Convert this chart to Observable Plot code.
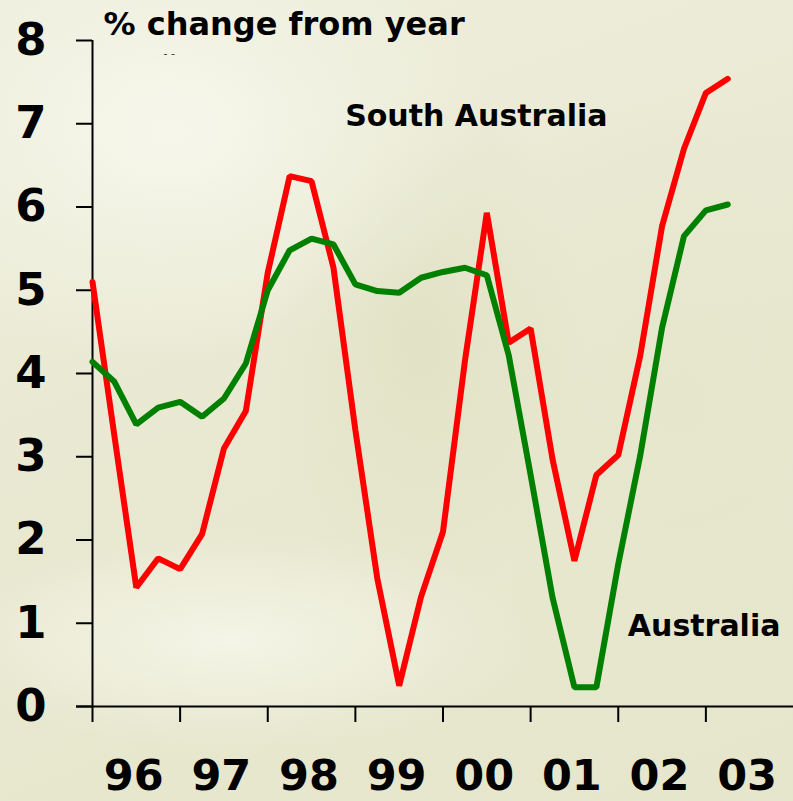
<!DOCTYPE html>
<html>
<head>
<meta charset="utf-8">
<script src="https://cdn.jsdelivr.net/npm/d3@7"></script>
<script src="https://cdn.jsdelivr.net/npm/@observablehq/plot@0.6"></script>
<style>
  html, body { margin: 0; padding: 0; }
  body {
    width: 793px; height: 801px; overflow: hidden;
    background:
      radial-gradient(ellipse 320px 230px at 170px 130px, rgba(247,247,236,0.95), rgba(247,247,236,0)),
      radial-gradient(ellipse 300px 110px at 230px 640px, rgba(246,246,234,0.9), rgba(246,246,234,0)),
      radial-gradient(ellipse 170px 260px at 420px 340px, rgba(222,224,192,0.7), rgba(222,224,192,0)),
      radial-gradient(ellipse 260px 300px at 680px 400px, rgba(228,229,202,0.6), rgba(228,229,202,0)),
      linear-gradient(160deg, #eeeedd 0%, #e8e8d0 55%, #e5e6cb 100%);
  }
</style>
</head>
<body>
<div id="chart"></div>
<script>
// Quarterly periods (96Q1 .. 03Q2)
const quarters = [
  "1996Q1","1996Q2","1996Q3","1996Q4",
  "1997Q1","1997Q2","1997Q3","1997Q4",
  "1998Q1","1998Q2","1998Q3","1998Q4",
  "1999Q1","1999Q2","1999Q3","1999Q4",
  "2000Q1","2000Q2","2000Q3","2000Q4",
  "2001Q1","2001Q2","2001Q3","2001Q4",
  "2002Q1","2002Q2","2002Q3","2002Q4",
  "2003Q1","2003Q2"
];
const southAustralia = [5.1, 3.25, 1.43, 1.78, 1.65, 2.07, 3.1, 3.55, 5.21, 6.37, 6.31, 5.27, 3.32, 1.54, 0.25,
  1.32, 2.1, 4.15, 5.93, 4.37, 4.54, 2.97, 1.75, 2.78, 3.02, 4.21, 5.77, 6.7, 7.37, 7.54];
const australia = [4.14, 3.9, 3.39, 3.59, 3.66, 3.48, 3.7, 4.12, 5.0, 5.48, 5.62, 5.55, 5.07, 4.99, 4.97,
  5.15, 5.22, 5.27, 5.18, 4.22, 2.78, 1.31, 0.23, 0.23, 1.71, 3.01, 4.55, 5.65, 5.96, 6.03];

const yearTicks = [1996, 1997, 1998, 1999, 2000, 2001, 2002, 2003];
const yearLabels = ["96", "97", "98", "99", "00", "01", "02", "03"];
const yTicks = [0, 1, 2, 3, 4, 5, 6, 7, 8];

const seriesLabels = [
  {name: "South Australia", x: 2000.38, y: 7.09},
  {name: "Australia", x: 2002.98, y: 0.96}
];

const toT = q => +q.slice(0, 4) + (+q.slice(5) - 1) / 4;
const rows = quarters.flatMap((q, i) => [
  {t: toT(q), v: southAustralia[i], s: "South Australia"},
  {t: toT(q), v: australia[i], s: "Australia"}
]);

const font = "DejaVu Sans, Verdana, sans-serif";

const chart = Plot.plot({
  width: 793,
  height: 801,
  marginLeft: 92,
  marginRight: 0,
  marginTop: 40,
  marginBottom: 95,
  style: {background: "transparent", fontFamily: font, color: "black"},
  x: {domain: [1996, 2004]},
  y: {domain: [0, 8]},
  color: {domain: ["South Australia", "Australia"], range: ["#ff0000", "#008000"]},
  marks: [
    Plot.axisY({ticks: yTicks, tickSize: 16, tickPadding: 30, strokeWidth: 2, fontSize: 45, fontWeight: "bold", label: null, tickFormat: d => String(d)}),
    Plot.axisX({ticks: yearTicks, tickSize: 16, strokeWidth: 2, tickFormat: () => "", label: null}),
    Plot.axisX({ticks: yearTicks.map(y => y + 0.47), tickSize: 0, tickPadding: 53, fontSize: 43, fontWeight: "bold", label: null,
      tickFormat: (d, i) => yearLabels[i]}),
    Plot.ruleX([1996], {y1: 0, y2: 8, stroke: "black", strokeWidth: 2}),
    Plot.ruleY([0], {x1: 1996, x2: 2004, insetLeft: -16, stroke: "black", strokeWidth: 2}),
    Plot.line(rows, {x: "t", y: "v", z: "s", stroke: "s", strokeWidth: 6, strokeLinejoin: "miter", strokeLinecap: "round"}),
    Plot.text(seriesLabels, {x: "x", y: "y", text: "name", fontSize: 30, fontWeight: "bold", fill: "black"}),
    Plot.text(["% change from year"], {frameAnchor: "top-left", dx: 11, dy: -16, lineAnchor: "middle", textAnchor: "start", fontSize: 32, fontWeight: "bold", fill: "black"}),
    Plot.text(["- -"], {frameAnchor: "top-left", dx: 71, dy: 13, lineAnchor: "middle", textAnchor: "start", fontSize: 11, fill: "#333"})
  ]
});
document.getElementById("chart").appendChild(chart);
</script>
</body>
</html>
